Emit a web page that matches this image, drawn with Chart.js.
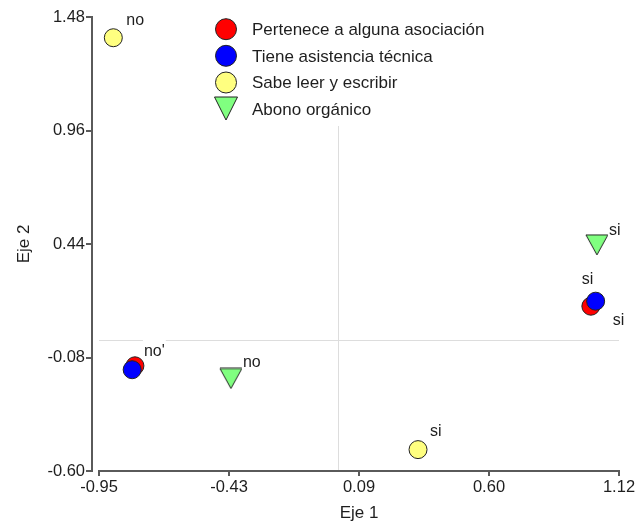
<!DOCTYPE html>
<html>
<head>
<meta charset="utf-8">
<script src="https://cdn.jsdelivr.net/npm/chart.js@4.4.0/dist/chart.umd.min.js"></script>
<style>
  html, body { margin: 0; padding: 0; background: #fff; }
  #wrap { position: relative; width: 636px; height: 523px; }
</style>
</head>
<body>
<div id="wrap"><canvas id="chart"></canvas></div>
<script>
// axis ticks (evenly spaced, labels rounded to 2 decimals)
const xTickValues = [-0.95, -0.4325, 0.085, 0.6025, 1.12];
const xTickLabels = ['-0.95', '-0.43', '0.09', '0.60', '1.12'];
const yTickValues = [-0.60, -0.08, 0.44, 0.96, 1.48];
const yTickLabels = ['-0.60', '-0.08', '0.44', '0.96', '1.48'];

const seriesNames = ['Pertenece a alguna asociación', 'Tiene asistencia técnica', 'Sabe leer y escribir', 'Abono orgánico'];

const asocX = [-0.807, 1.008];
const asocY = [-0.118, 0.155];
const asocLabels = ["no'", 'si'];

const asistX = [-0.818, 1.027];
const asistY = [-0.136, 0.178];
const asistLabels = ['', 'si'];

const leerX = [-0.893, 0.320];
const leerY = [1.385, -0.502];
const leerLabels = ['no', 'si'];

const abonoX = [-0.425, 1.032];
const abonoY = [-0.176, 0.436];
const abonoLabels = ['no', 'si'];

// ---- styling ----
const FONT = '"Liberation Sans", Arial, sans-serif';
const TEXT = '#1e1e1e';
const EDGE = '#222';
const colors = ['#ff0000', '#0000ff', '#ffff80', '#80ff80'];

// where each point label sits relative to its point (px: dx to text start, dy to baseline)
const labelOffsets = [
    [[9, -10], [22, 19]],
    [[0, 0], [-14, -17]],
    [[13, -13], [12, -14]],
    [[12, -11], [12, -10]]
];

function makeTriangle(w, h, fill) {
    const c = document.createElement('canvas');
    c.width = w + 2; c.height = h + 2;
    const g = c.getContext('2d');
    g.beginPath();
    g.moveTo(1, 1);
    g.lineTo(w + 1, 1);
    g.lineTo(w / 2 + 1, h + 1);
    g.closePath();
    g.fillStyle = fill;
    g.fill();
    g.strokeStyle = EDGE;
    g.lineWidth = 1;
    g.stroke();
    return c;
}

const triPoint = makeTriangle(22, 20, colors[3]);

function toPoints(xs, ys) {
    return xs.map((x, i) => ({ x: x, y: ys[i] }));
}

const pointLabels = [asocLabels, asistLabels, leerLabels, abonoLabels];

const decor = {
    id: 'decor',
    beforeDatasetsDraw(chart) {
        const { ctx, chartArea: a, scales: { x, y } } = chart;
        ctx.save();
        // zero reference lines
        ctx.strokeStyle = '#dddddd';
        ctx.lineWidth = 1;
        const x0 = Math.round(x.getPixelForValue(0)) + 0.5;
        const y0 = Math.round(y.getPixelForValue(0)) + 0.5;
        ctx.beginPath();
        ctx.moveTo(x0, a.bottom); ctx.lineTo(x0, a.top);
        ctx.moveTo(a.left, y0); ctx.lineTo(a.right, y0);
        ctx.stroke();

        // axis lines, y axis pulled a bit to the left
        ctx.strokeStyle = '#5a5a5a';
        ctx.lineWidth = 2;
        const ax = a.left - 7;
        ctx.beginPath();
        ctx.moveTo(ax, a.top); ctx.lineTo(ax, a.bottom + 1);
        yTickValues.forEach(v => {
            const py = Math.round(y.getPixelForValue(v));
            ctx.moveTo(ax - 6, py); ctx.lineTo(ax + 1, py);
        });
        ctx.moveTo(a.left - 1, a.bottom); ctx.lineTo(a.right + 1, a.bottom);
        xTickValues.forEach(v => {
            const px = Math.round(x.getPixelForValue(v));
            ctx.moveTo(px, a.bottom); ctx.lineTo(px, a.bottom + 5);
        });
        ctx.stroke();

        // axis titles
        ctx.fillStyle = TEXT;
        ctx.font = '17px ' + FONT;
        ctx.textAlign = 'center';
        ctx.textBaseline = 'alphabetic';
        ctx.fillText('Eje 1', (a.left + a.right) / 2, 518);
        ctx.translate(29, 244);
        ctx.rotate(-Math.PI / 2);
        ctx.fillText('Eje 2', 0, 0);
        ctx.restore();
    },
    afterDatasetsDraw(chart) {
        const { ctx } = chart;
        ctx.save();
        ctx.font = '16px ' + FONT;
        ctx.textAlign = 'left';
        ctx.textBaseline = 'alphabetic';
        chart.data.datasets.forEach((ds, di) => {
            const meta = chart.getDatasetMeta(di);
            meta.data.forEach((pt, i) => {
                const txt = pointLabels[di][i];
                if (!txt) return;
                const [dx, dy] = labelOffsets[di][i];
                const tx = pt.x + dx, ty = pt.y + dy;
                const w = ctx.measureText(txt).width;
                ctx.fillStyle = '#fff';
                ctx.fillRect(tx - 1, ty - 17, w + 2, 20);
                ctx.fillStyle = TEXT;
                ctx.fillText(txt, tx, ty);
            });
        });

        // legend block
        ctx.fillStyle = '#fff';
        ctx.fillRect(210, 8, 290, 118);
        const mx = 226, tx = 252;
        const rowsY = [29.2, 55.8, 82.5];
        const baseY = [35, 61.7, 88.3, 115];
        ctx.strokeStyle = EDGE;
        ctx.lineWidth = 1;
        rowsY.forEach((ry, i) => {
            ctx.beginPath();
            ctx.arc(mx, ry, 10.5, 0, Math.PI * 2);
            ctx.fillStyle = colors[i];
            ctx.fill();
            ctx.stroke();
        });
        ctx.beginPath();
        ctx.moveTo(mx - 11.5, 97);
        ctx.lineTo(mx + 11.5, 97);
        ctx.lineTo(mx, 120);
        ctx.closePath();
        ctx.fillStyle = colors[3];
        ctx.fill();
        ctx.stroke();

        ctx.font = '17px ' + FONT;
        ctx.fillStyle = TEXT;
        seriesNames.forEach((name, i) => ctx.fillText(name, tx, baseY[i]));
        ctx.restore();
    }
};

const tickFont = { family: FONT, size: 16.5 };

new Chart(document.getElementById('chart').getContext('2d'), {
    type: 'scatter',
    data: {
        datasets: [
            { label: seriesNames[0], data: toPoints(asocX, asocY), backgroundColor: colors[0], borderColor: EDGE, borderWidth: 1, pointRadius: 9, order: 2 },
            { label: seriesNames[1], data: toPoints(asistX, asistY), backgroundColor: colors[1], borderColor: EDGE, borderWidth: 1, pointRadius: 9, order: 1 },
            { label: seriesNames[2], data: toPoints(leerX, leerY), backgroundColor: colors[2], borderColor: EDGE, borderWidth: 1, pointRadius: 9, order: 1 },
            { label: seriesNames[3], data: toPoints(abonoX, abonoY), pointStyle: triPoint, pointRadius: 11, order: 1 }
        ]
    },
    options: {
        responsive: true,
        maintainAspectRatio: false,
        devicePixelRatio: 1,
        animation: false,
        layout: { padding: { left: 0, right: 17, top: 17, bottom: 0 } },
        plugins: {
            legend: { display: false },
            tooltip: { enabled: false }
        },
        scales: {
            x: {
                type: 'linear',
                min: -0.95,
                max: 1.12,
                afterBuildTicks: (s) => { s.ticks = xTickValues.map(v => ({ value: v })); },
                afterFit: (s) => { s.height = 52; s.paddingLeft = 0; s.paddingRight = 0; },
                ticks: {
                    font: tickFont,
                    color: TEXT,
                    padding: 7,
                    maxRotation: 0,
                    autoSkip: false,
                    callback: (v, i) => xTickLabels[i]
                },
                grid: { display: false, drawTicks: false },
                border: { display: false }
            },
            y: {
                type: 'linear',
                min: -0.60,
                max: 1.48,
                afterBuildTicks: (s) => { s.ticks = yTickValues.map(v => ({ value: v })); },
                afterFit: (s) => { s.width = 99; s.paddingTop = 0; s.paddingBottom = 0; },
                ticks: {
                    font: tickFont,
                    color: TEXT,
                    padding: 14,
                    autoSkip: false,
                    callback: (v, i) => yTickLabels[i]
                },
                grid: { display: false, drawTicks: false },
                border: { display: false }
            }
        }
    },
    plugins: [decor]
});
</script>
</body>
</html>
